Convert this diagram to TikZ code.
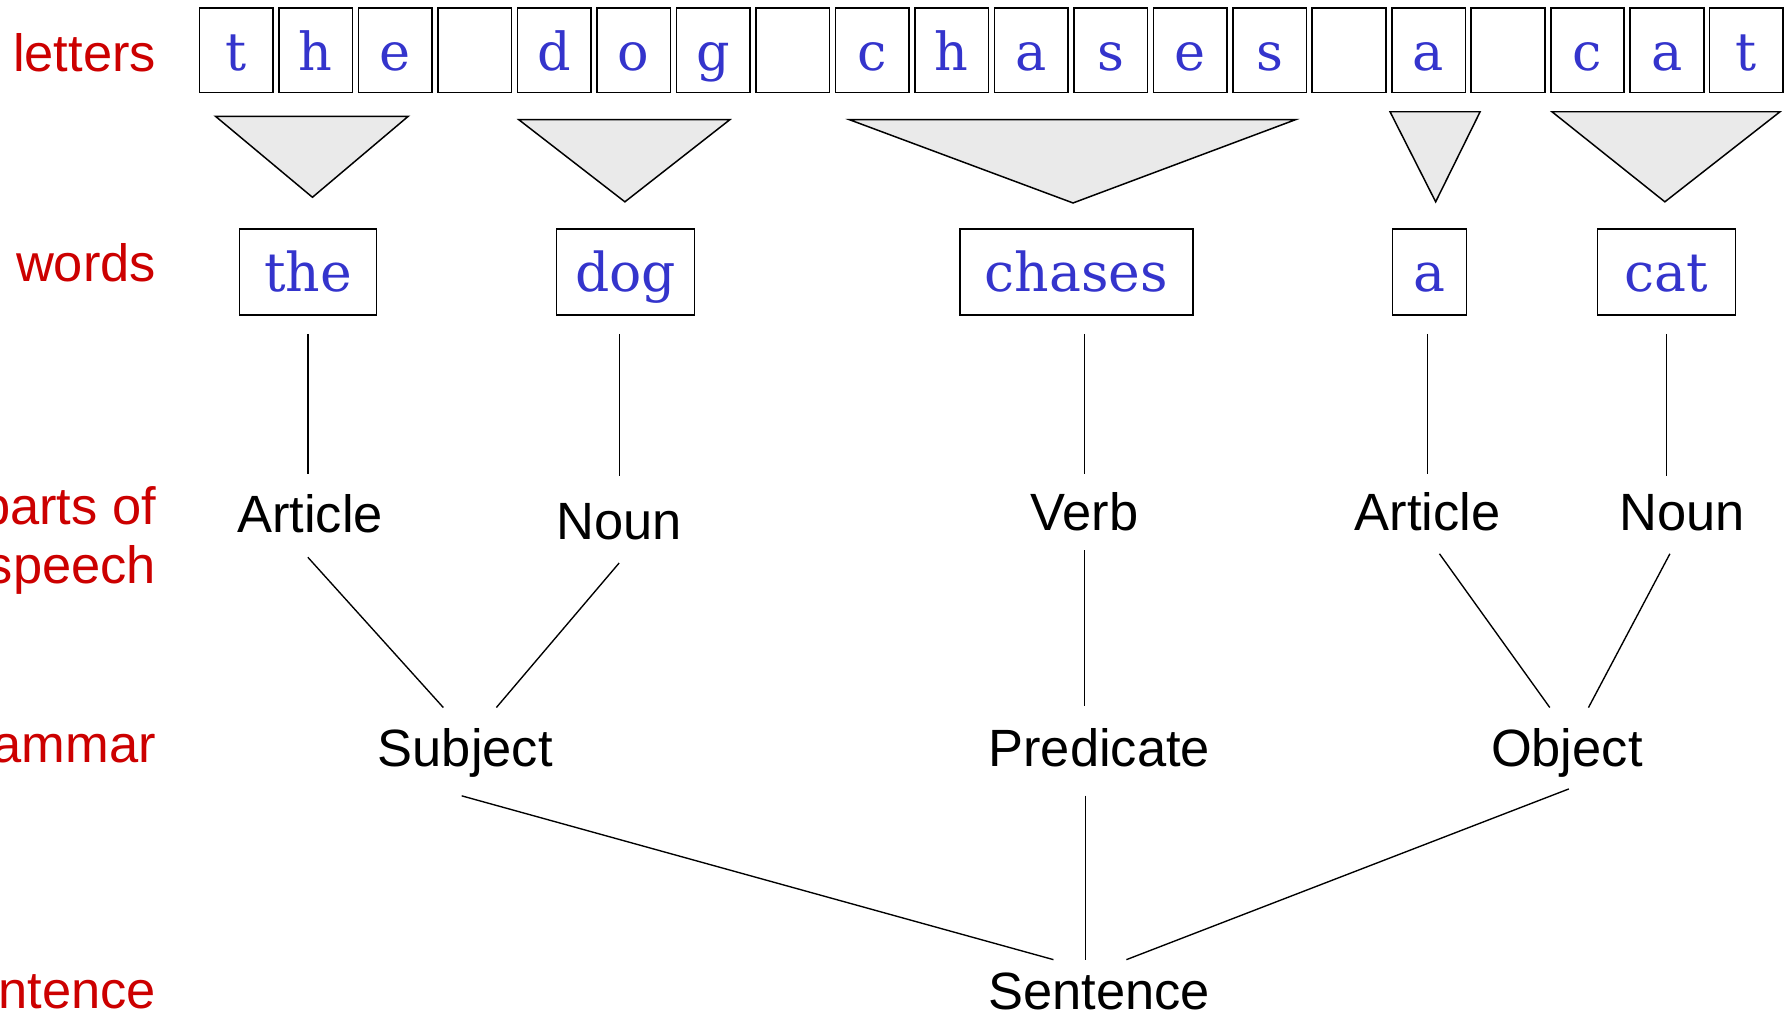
\documentclass[tikz,border=0pt]{standalone}
\usepackage{fontspec}
\setmainfont{Liberation Sans}
\newfontfamily\wordfont{DejaVu Serif}
\definecolor{labelred}{RGB}{204,0,0}
\definecolor{inkblue}{RGB}{52,52,204}
\definecolor{trigray}{RGB}{234,234,234}
\begin{document}
\begin{tikzpicture}[x=1pt,y=-1pt,
  letterbox/.style={draw, line width=1.4pt, minimum width=64.5pt, minimum height=74pt,
    inner sep=0pt, text height=36pt, text depth=0pt, text=inkblue,
    font=\wordfont\fontsize{46}{56}\selectfont},
  wordbox/.style={draw, line width=1.4pt, minimum height=75pt, inner sep=0pt,
    text height=35pt, text depth=0pt, text=inkblue,
    font=\wordfont\fontsize{47}{56}\selectfont},
  funnel/.style={draw, line width=1.3pt, fill=trigray, line join=miter},
  levellabel/.style={inner sep=0pt, text=labelred, align=right,
    font=\fontsize{46}{52}\selectfont},
  term/.style={inner sep=0pt, anchor=base, font=\fontsize{46}{52}\selectfont},
  link/.style={line width=1.2pt}]

\useasboundingbox (0,0) rectangle (1568,891);
\clip (0,0) rectangle (1568,891);

% level names
\node[levellabel, anchor=base east] (llet) at (137,63) {letters};
\node[levellabel, anchor=base east] (lword) at (137,247) {words};
\node[levellabel, anchor=north east] (lpos) at (137,426.5) {parts of\\speech};
\node[levellabel, anchor=base east] (lgram) at (137,669) {Grammar};
\node[levellabel, anchor=base east] (lsent) at (137,884) {Sentence};

% one box per character
\foreach \ch [count=\i] in {t,h,e,{},d,o,g,{},c,h,a,s,e,s,{},a,{},c,a,t}
  \node[letterbox] (l\i) at ({207.25+(\i-1)*69.7},44) {\ch};

% letters gathered into words
\filldraw[funnel] (189,102) -- (358,102) -- (274,173) -- cycle;
\filldraw[funnel] (455,105) -- (640,105) -- (548,177) -- cycle;
\filldraw[funnel] (745,105) -- (1136,105) -- (941,178) -- cycle;
\filldraw[funnel] (1219,98) -- (1298,98) -- (1259,177) -- cycle;
\filldraw[funnel] (1361,98) -- (1561,98) -- (1460,177) -- cycle;

% words
\node[wordbox, minimum width=120pt] (wthe) at (270,238.5) {the};
\node[wordbox, minimum width=121pt] (wdog) at (548.5,238.5) {dog};
\node[wordbox, minimum width=204pt] (wch) at (944,238.5) {chases};
\node[wordbox, minimum width=65pt] (wa) at (1253.5,238.5) {a};
\node[wordbox, minimum width=121pt] (wcat) at (1461.5,238.5) {cat};

% parts of speech
\node[term] (art1) at (272,467) {Article};
\node[term] (noun1) at (543,473) {Noun};
\node[term] (verb) at (951,465) {Verb};
\node[term] (art2) at (1252,465) {Article};
\node[term] (noun2) at (1475,465) {Noun};

% grammar
\node[term] (subj) at (408,672) {Subject};
\node[term] (pred) at (964,672) {Predicate};
\node[term] (obj) at (1374,672) {Object};

% sentence
\node[term] (sent) at (964,885) {Sentence};

% words to parts of speech
\draw[link, shorten <=16pt, shorten >=18pt] (wthe.south) -- (wthe.south |- art1.north);
\draw[link, shorten <=16pt, shorten >=24pt] (noun1.north |- wdog.south) -- (noun1.north);
\draw[link, shorten <=16pt, shorten >=16pt] (verb.north |- wch.south) -- (verb.north);
\draw[link, shorten <=16pt, shorten >=16pt] (art2.north |- wa.south) -- (art2.north);
\draw[link, shorten <=16pt, shorten >=16pt] (wcat.south) -- (wcat.south |- noun2.north);

% parts of speech to grammar
\draw[link, shorten <=28.3pt, shorten >=24.2pt] ([xshift=-21pt]art1.south) -- ([xshift=-3pt]subj.north);
\draw[link, shorten <=26.3pt, shorten >=23.6pt] ([xshift=17pt]noun1.south) -- ([xshift=12pt]subj.north);
\draw[link, shorten <=17pt, shorten >=19pt] (verb.south) -- (verb.south |- pred.north);
\draw[link, shorten <=24.6pt, shorten >=22.2pt] ([xshift=-4pt]art2.south) -- ([xshift=-2pt]obj.north);
\draw[link, shorten <=22.6pt, shorten >=20.3pt] (noun2.south) -- ([xshift=9.5pt]obj.north);

% grammar to sentence
\draw[link, shorten <=60.6pt, shorten >=41.7pt] ([xshift=-61.5pt]subj.south) -- (sent.north);
\draw[link, shorten <=25pt, shorten >=11pt] ([xshift=-12pt]pred.south) -- ([xshift=-12pt]sent.north);
\draw[link, shorten <=28.1pt, shorten >=30.9pt] ([xshift=28pt]obj.south) -- ([xshift=-5pt]sent.north);
\end{tikzpicture}
\end{document}
